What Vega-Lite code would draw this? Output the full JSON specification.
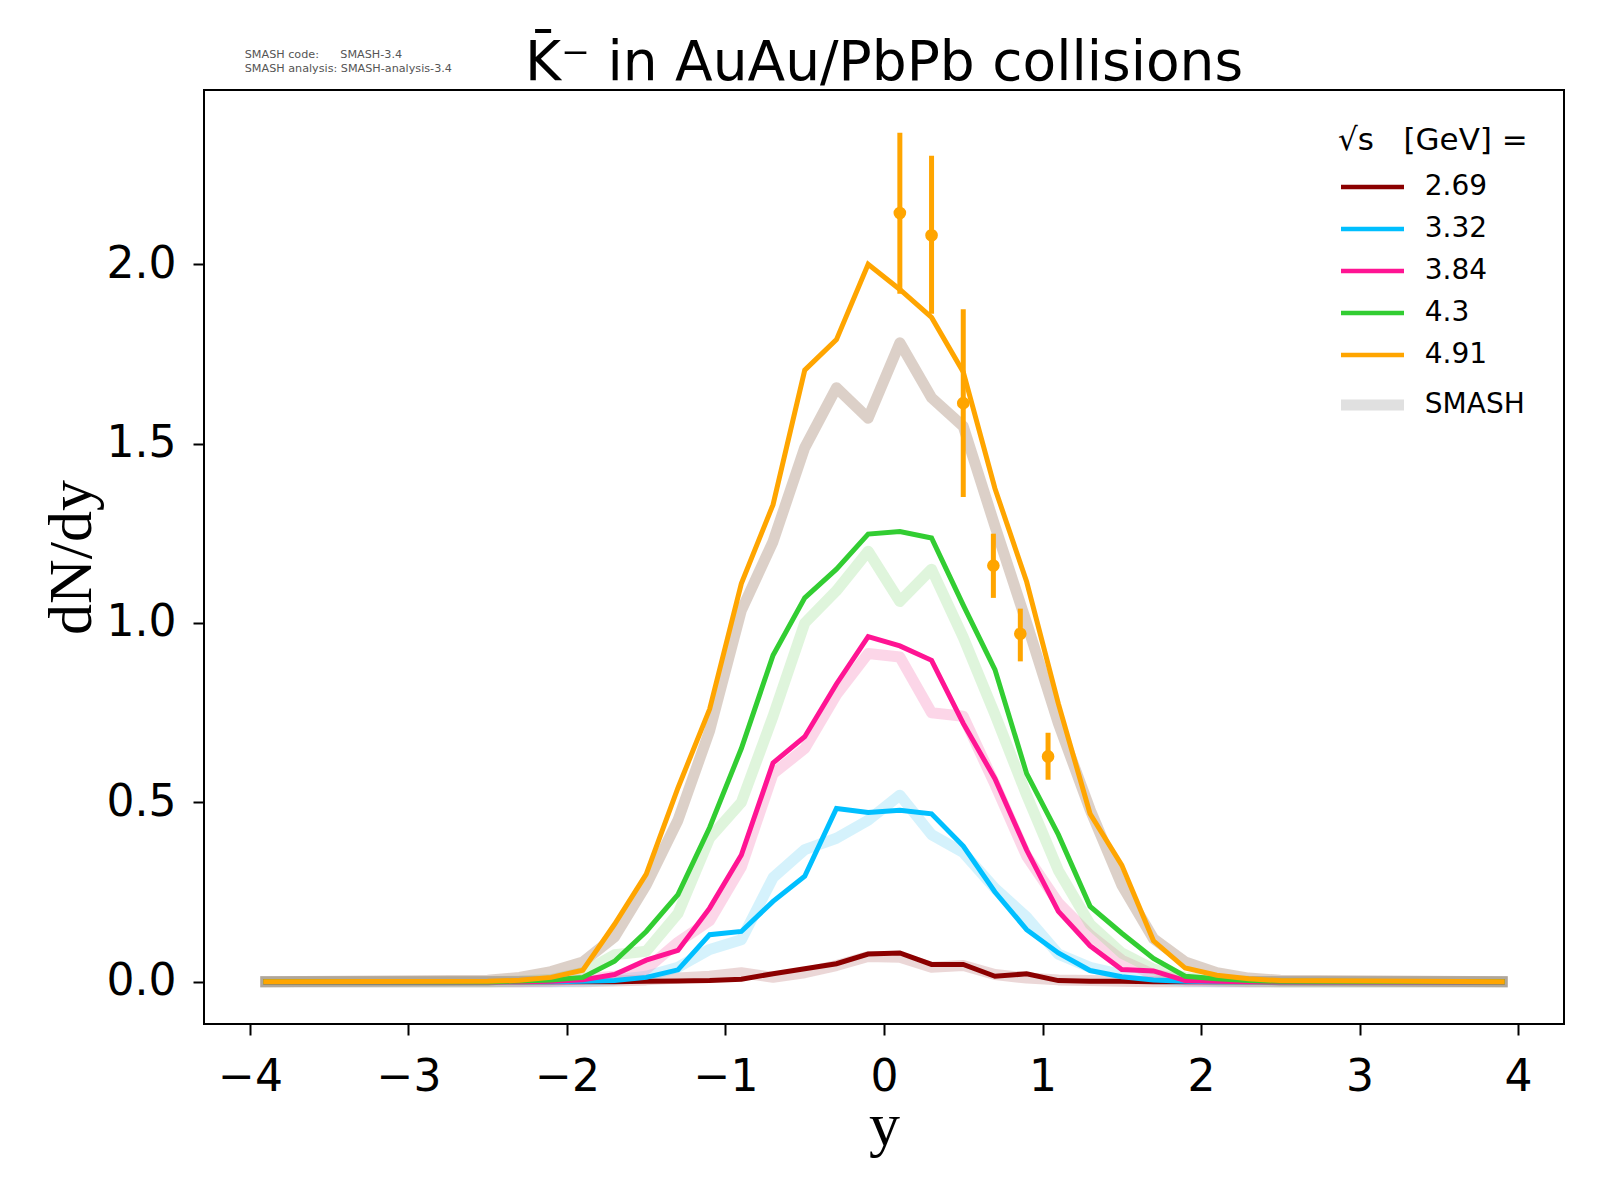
{
  "$schema": "https://vega.github.io/schema/vega-lite/v6.json",
  "width": 1360,
  "height": 934,
  "autosize": {"type": "none"},
  "padding": {"left": 204, "top": 90, "right": 36, "bottom": 176},
  "background": "white",
  "config": {
    "font": "DejaVu Sans",
    "view": {"stroke": "black", "strokeWidth": 2},
    "axis": {
      "domain": false,
      "grid": false,
      "tickSize": 11,
      "tickWidth": 2,
      "tickColor": "black",
      "labelFont": "DejaVu Sans",
      "labelFontSize": 44,
      "labelColor": "black",
      "titleFont": "Liberation Serif",
      "titleFontSize": 62,
      "titleFontWeight": "normal",
      "titleColor": "black"
    },
    "legend": {
      "padding": 0,
      "titleFont": "DejaVu Sans",
      "titleFontSize": 31,
      "titleFontWeight": "normal",
      "titleColor": "black",
      "titleLimit": 400,
      "titlePadding": 16,
      "labelFont": "DejaVu Sans",
      "labelFontSize": 28,
      "labelColor": "black",
      "labelOffset": 38.3,
      "symbolOffset": 20.5,
      "symbolType": "stroke",
      "symbolSize": 3969,
      "rowPadding": 14
    }
  },
  "title": {
    "text": "K̄⁻ in AuAu/PbPb collisions",
    "font": "DejaVu Sans",
    "fontSize": 55,
    "fontWeight": "normal",
    "color": "black",
    "anchor": "middle",
    "frame": "group",
    "baseline": "alphabetic",
    "offset": 11,
    "dy": 97
  },
  "datasets": {
    "lines": [
      {"r": -3.9, "E2_69": 0, "E3_32": 0, "E3_84": 0, "E4_3": 0, "E4_91": 0, "S2_69": 0, "S3_32": 0, "S3_84": 0, "S4_3": 0, "S4_91": 0},
      {"r": -2.5, "E2_69": 0, "E3_32": 0, "E3_84": 0, "E4_3": 0, "E4_91": 0.001, "S2_69": 0, "S3_32": 0, "S3_84": 0, "S4_3": 0, "S4_91": 0.004},
      {"r": -2.3, "E2_69": 0, "E3_32": 0, "E3_84": 0, "E4_3": 0.002, "E4_91": 0.004, "S2_69": 0, "S3_32": 0, "S3_84": 0, "S4_3": 0.002, "S4_91": 0.012},
      {"r": -2.1, "E2_69": 0, "E3_32": 0, "E3_84": 0.001, "E4_3": 0.005, "E4_91": 0.012, "S2_69": 0, "S3_32": 0, "S3_84": 0.002, "S4_3": 0.006, "S4_91": 0.028},
      {"r": -1.9, "E2_69": 0, "E3_32": 0.001, "E3_84": 0.005, "E4_3": 0.012, "E4_91": 0.032, "S2_69": 0, "S3_32": 0.002, "S3_84": 0.008, "S4_3": 0.025, "S4_91": 0.055},
      {"r": -1.7, "E2_69": 0, "E3_32": 0.003, "E3_84": 0.02, "E4_3": 0.057, "E4_91": 0.16, "S2_69": 0.002, "S3_32": 0.005, "S3_84": 0.015, "S4_3": 0.075, "S4_91": 0.125},
      {"r": -1.5, "E2_69": 0.001, "E3_32": 0.012, "E3_84": 0.06, "E4_3": 0.14, "E4_91": 0.3, "S2_69": 0.005, "S3_32": 0.015, "S3_84": 0.035, "S4_3": 0.085, "S4_91": 0.27},
      {"r": -1.3, "E2_69": 0.002, "E3_32": 0.033, "E3_84": 0.087, "E4_3": 0.243, "E4_91": 0.54, "S2_69": 0.01, "S3_32": 0.04, "S3_84": 0.11, "S4_3": 0.19, "S4_91": 0.45},
      {"r": -1.1, "E2_69": 0.003, "E3_32": 0.131, "E3_84": 0.205, "E4_3": 0.43, "E4_91": 0.76, "S2_69": 0.015, "S3_32": 0.09, "S3_84": 0.17, "S4_3": 0.4, "S4_91": 0.7},
      {"r": -0.9, "E2_69": 0.007, "E3_32": 0.14, "E3_84": 0.353, "E4_3": 0.65, "E4_91": 1.11, "S2_69": 0.025, "S3_32": 0.117, "S3_84": 0.32, "S4_3": 0.5, "S4_91": 1.035},
      {"r": -0.7, "E2_69": 0.022, "E3_32": 0.224, "E3_84": 0.61, "E4_3": 0.91, "E4_91": 1.33, "S2_69": 0.012, "S3_32": 0.29, "S3_84": 0.58, "S4_3": 0.74, "S4_91": 1.227},
      {"r": -0.5, "E2_69": 0.036, "E3_32": 0.294, "E3_84": 0.683, "E4_3": 1.07, "E4_91": 1.705, "S2_69": 0.025, "S3_32": 0.368, "S3_84": 0.65, "S4_3": 1.0, "S4_91": 1.489},
      {"r": -0.3, "E2_69": 0.05, "E3_32": 0.483, "E3_84": 0.83, "E4_3": 1.15, "E4_91": 1.79, "S2_69": 0.045, "S3_32": 0.4, "S3_84": 0.8, "S4_3": 1.09, "S4_91": 1.656},
      {"r": -0.1, "E2_69": 0.077, "E3_32": 0.472, "E3_84": 0.962, "E4_3": 1.248, "E4_91": 2.0, "S2_69": 0.07, "S3_32": 0.45, "S3_84": 0.915, "S4_3": 1.2, "S4_91": 1.571},
      {"r": 0.1, "E2_69": 0.08, "E3_32": 0.478, "E3_84": 0.936, "E4_3": 1.255, "E4_91": 1.93, "S2_69": 0.068, "S3_32": 0.52, "S3_84": 0.905, "S4_3": 1.06, "S4_91": 1.781},
      {"r": 0.3, "E2_69": 0.048, "E3_32": 0.468, "E3_84": 0.896, "E4_3": 1.237, "E4_91": 1.852, "S2_69": 0.04, "S3_32": 0.41, "S3_84": 0.75, "S4_3": 1.15, "S4_91": 1.628},
      {"r": 0.5, "E2_69": 0.048, "E3_32": 0.378, "E3_84": 0.72, "E4_3": 1.05, "E4_91": 1.7, "S2_69": 0.045, "S3_32": 0.36, "S3_84": 0.74, "S4_3": 0.96, "S4_91": 1.548},
      {"r": 0.7, "E2_69": 0.015, "E3_32": 0.25, "E3_84": 0.566, "E4_3": 0.87, "E4_91": 1.375, "S2_69": 0.02, "S3_32": 0.26, "S3_84": 0.55, "S4_3": 0.745, "S4_91": 1.27},
      {"r": 0.9, "E2_69": 0.022, "E3_32": 0.145, "E3_84": 0.367, "E4_3": 0.58, "E4_91": 1.115, "S2_69": 0.01, "S3_32": 0.18, "S3_84": 0.35, "S4_3": 0.52, "S4_91": 1.0},
      {"r": 1.1, "E2_69": 0.003, "E3_32": 0.08, "E3_84": 0.196, "E4_3": 0.41, "E4_91": 0.775, "S2_69": 0.005, "S3_32": 0.077, "S3_84": 0.22, "S4_3": 0.31, "S4_91": 0.72},
      {"r": 1.3, "E2_69": 0.001, "E3_32": 0.031, "E3_84": 0.1, "E4_3": 0.21, "E4_91": 0.468, "S2_69": 0.003, "S3_32": 0.04, "S3_84": 0.13, "S4_3": 0.16, "S4_91": 0.48},
      {"r": 1.5, "E2_69": 0.001, "E3_32": 0.014, "E3_84": 0.034, "E4_3": 0.135, "E4_91": 0.325, "S2_69": 0.001, "S3_32": 0.02, "S3_84": 0.06, "S4_3": 0.08, "S4_91": 0.27},
      {"r": 1.7, "E2_69": 0, "E3_32": 0.005, "E3_84": 0.03, "E4_3": 0.065, "E4_91": 0.114, "S2_69": 0, "S3_32": 0.008, "S3_84": 0.02, "S4_3": 0.035, "S4_91": 0.12},
      {"r": 1.9, "E2_69": 0, "E3_32": 0.001, "E3_84": 0.003, "E4_3": 0.015, "E4_91": 0.038, "S2_69": 0, "S3_32": 0.002, "S3_84": 0.005, "S4_3": 0.012, "S4_91": 0.055},
      {"r": 2.1, "E2_69": 0, "E3_32": 0, "E3_84": 0.001, "E4_3": 0.008, "E4_91": 0.018, "S2_69": 0, "S3_32": 0, "S3_84": 0.002, "S4_3": 0.004, "S4_91": 0.025},
      {"r": 2.3, "E2_69": 0, "E3_32": 0, "E3_84": 0, "E4_3": 0.003, "E4_91": 0.008, "S2_69": 0, "S3_32": 0, "S3_84": 0, "S4_3": 0.001, "S4_91": 0.01},
      {"r": 2.5, "E2_69": 0, "E3_32": 0, "E3_84": 0, "E4_3": 0.001, "E4_91": 0.003, "S2_69": 0, "S3_32": 0, "S3_84": 0, "S4_3": 0, "S4_91": 0.004},
      {"r": 3.9, "E2_69": 0, "E3_32": 0, "E3_84": 0, "E4_3": 0, "E4_91": 0, "S2_69": 0, "S3_32": 0, "S3_84": 0, "S4_3": 0, "S4_91": 0}
    ],
    "exp": [
      {"r": 0.1, "dndy": 2.143, "lo": 1.918, "hi": 2.367},
      {"r": 0.3, "dndy": 2.081, "lo": 1.862, "hi": 2.303},
      {"r": 0.5, "dndy": 1.613, "lo": 1.351, "hi": 1.875},
      {"r": 0.69, "dndy": 1.16, "lo": 1.07, "hi": 1.249},
      {"r": 0.86, "dndy": 0.97, "lo": 0.893, "hi": 1.04},
      {"r": 1.035, "dndy": 0.628, "lo": 0.563, "hi": 0.694}
    ],
    "note": [
      {"r": -4.033, "dndy": 2.574, "line": "SMASH code:\u00a0\u00a0\u00a0\u00a0\u00a0\u00a0SMASH-3.4"},
      {"r": -4.033, "dndy": 2.537, "line": "SMASH analysis: SMASH-analysis-3.4"}
    ]
  },
  "encoding": {
    "x": {
      "field": "r",
      "type": "quantitative",
      "title": "y",
      "scale": {"domain": [-4.29, 4.29], "nice": false, "zero": false},
      "axis": {"values": [-4, -3, -2, -1, 0, 1, 2, 3, 4], "format": "d", "labelPadding": 20, "titleY": 120, "titleBaseline": "alphabetic"}
    },
    "y": {
      "field": "dndy",
      "type": "quantitative",
      "title": "dN/dy",
      "scale": {"domain": [-0.118, 2.486], "nice": false, "zero": false},
      "axis": {"values": [0, 0.5, 1, 1.5, 2], "format": ".1f", "labelPadding": 17, "titleX": -114, "titleBaseline": "alphabetic"}
    }
  },
  "layer": [
    {
      "data": {"name": "lines"},
      "transform": [{"fold": ["S2_69", "S3_32", "S3_84", "S4_3", "S4_91"], "as": ["series", "dndy"]}],
      "mark": {"type": "line", "strokeWidth": 11, "opacity": 0.3, "strokeCap": "square", "strokeJoin": "round"},
      "encoding": {
        "color": {
          "field": "series",
          "type": "nominal",
          "scale": {
            "domain": ["E2_69", "E3_32", "E3_84", "E4_3", "E4_91", "SMASH", "S2_69", "S3_32", "S3_84", "S4_3", "S4_91"],
            "range": ["#8b0000", "#00bfff", "#ff1493", "#32cd32", "#ffa500", "#e0e0e0", "#bc7a7a", "#73d4f5", "#f576b2", "#94de8a", "#8a6248"]
          },
          "legend": {
            "title": "√s\u00a0\u00a0\u00a0[GeV] =",
            "orient": "none",
            "legendX": 1134,
            "legendY": 36,
            "values": ["E2_69", "E3_32", "E3_84", "E4_3", "E4_91", "SMASH"],
            "labelExpr": "datum.label == 'SMASH' ? 'SMASH' : replace(slice(datum.label, 1), '_', '.')",
            "symbolOpacity": 1,
            "symbolStrokeWidth": {"expr": "datum.value == 'SMASH' ? 11 : 4.5"}
          }
        }
      }
    },
    {
      "data": {"name": "lines"},
      "transform": [{"fold": ["E2_69", "E3_32", "E3_84", "E4_3", "E4_91"], "as": ["series", "dndy"]}],
      "mark": {"type": "line", "strokeWidth": 5, "strokeCap": "square"},
      "encoding": {
        "color": {"field": "series", "type": "nominal"}
      }
    },
    {
      "data": {"name": "exp"},
      "mark": {"type": "rule", "strokeWidth": 5, "color": "#ffa500"},
      "encoding": {
        "y": {"field": "lo", "type": "quantitative", "title": "dN/dy"},
        "y2": {"field": "hi"}
      }
    },
    {
      "data": {"name": "exp"},
      "mark": {"type": "point", "filled": true, "opacity": 1, "size": 160, "color": "#ffa500"}
    },
    {
      "data": {"name": "note"},
      "mark": {"type": "text", "align": "left", "baseline": "alphabetic", "fontSize": 11.2, "color": "#555555"},
      "encoding": {
        "text": {"field": "line", "type": "nominal"}
      }
    }
  ]
}
